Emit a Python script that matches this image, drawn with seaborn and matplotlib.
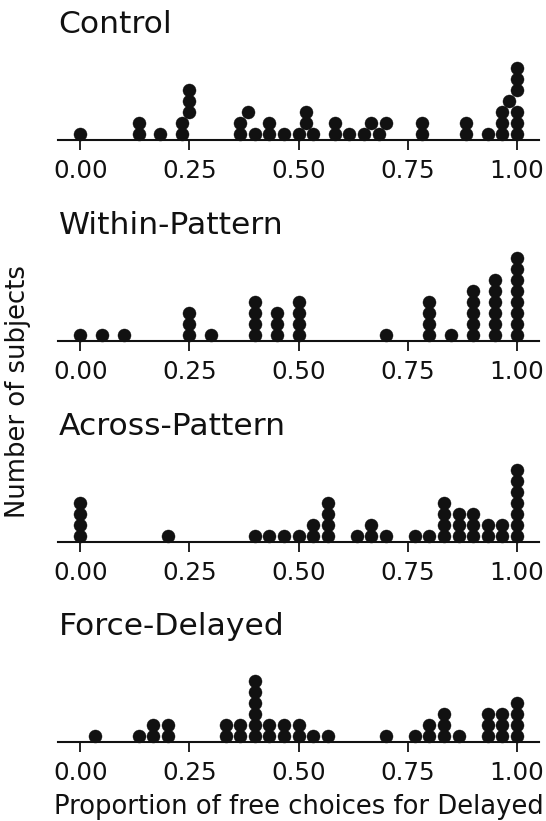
import numpy as np
import pandas as pd
import seaborn as sns
import matplotlib.pyplot as plt

sns.set_theme(style="ticks")
plt.rcParams["font.family"] = ["DejaVu Sans"]

# ============================
# Data: number of free choices for Delayed per subject
# (proportion = count / number of free-choice trials)
# ============================
panel_names = ["Control", "Within-Pattern", "Across-Pattern", "Force-Delayed"]

control_trials = 60
control_counts = [0, 8, 8, 11, 14, 14, 15, 15, 15, 22, 22, 23, 24, 26, 26, 28,
                  30, 31, 31, 32, 35, 35, 37, 39, 40, 41, 42, 47, 47, 53, 53,
                  56, 58, 58, 58, 59, 60, 60, 60, 60, 60, 60]

within_trials = 20
within_counts = [0, 1, 2, 5, 5, 5, 6, 8, 8, 8, 8, 9, 9, 9, 10, 10, 10, 10, 14,
                 16, 16, 16, 16, 17, 18, 18, 18, 18, 18, 19, 19, 19, 19, 19, 19,
                 20, 20, 20, 20, 20, 20, 20, 20]

across_trials = 30
across_counts = [0, 0, 0, 0, 6, 12, 13, 14, 15, 16, 16, 17, 17, 17, 17, 19,
                 20, 20, 21, 23, 24, 25, 25, 25, 25, 26, 26, 26, 27, 27, 27,
                 28, 28, 29, 29, 30, 30, 30, 30, 30, 30, 30]

forced_trials = 30
forced_counts = [1, 4, 5, 5, 6, 6, 10, 10, 11, 11, 12, 12, 12, 12, 12, 12, 13,
                 13, 14, 14, 15, 15, 16, 17, 21, 23, 24, 24, 25, 25, 25, 26,
                 28, 28, 28, 29, 29, 29, 30, 30, 30, 30]

tick_values = [0.0, 0.25, 0.5, 0.75, 1.0]

# ============================
# Layout (pixels of a 546x821 figure)
# ============================
FIG_W, FIG_H, DPI = 546, 821, 100
AX_LEFT, AX_W, AX_H = 58.5, 480, 96
SPINE_Y = [140, 340.7, 541.7, 741.7]
DOT_PX = 11
XLIM = (-0.05, 1.05)
DOT_COLOR = "#111111"


def stack_levels(props):
    """Stack dots one-sided: each dot goes to the lowest free level
    among already placed dots that overlap it horizontally."""
    min_gap = DOT_PX / (AX_W / (XLIM[1] - XLIM[0]))
    placed = []
    rows = []
    for p in sorted(props):
        taken = {lvl for q, lvl in placed if abs(q - p) < min_gap - 1e-9}
        lvl = 0
        while lvl in taken:
            lvl += 1
        placed.append((p, lvl))
        rows.append({"proportion": p, "height": lvl + 0.5})
    return pd.DataFrame(rows)


def main():
    fig = plt.figure(figsize=(FIG_W / DPI, FIG_H / DPI), dpi=DPI)

    panels = [
        np.array(control_counts) / control_trials,
        np.array(within_counts) / within_trials,
        np.array(across_counts) / across_trials,
        np.array(forced_counts) / forced_trials,
    ]

    axes = []
    for name, props, spine_y in zip(panel_names, panels, SPINE_Y):
        ax = fig.add_axes([AX_LEFT / FIG_W, 1 - spine_y / FIG_H,
                           AX_W / FIG_W, AX_H / FIG_H])
        df = stack_levels(props)
        sns.scatterplot(data=df, x="proportion", y="height", ax=ax,
                        s=88, color=DOT_COLOR, edgecolor=DOT_COLOR,
                        linewidth=0.3, legend=False, clip_on=False)
        ax.set_xlim(*XLIM)
        ax.set_ylim(0, AX_H / DOT_PX)
        ax.set_yticks([])
        ax.set_xticks(tick_values)
        ax.set_xticklabels([f"{t:.2f}" for t in tick_values])
        ax.tick_params(axis="x", length=7, width=1.3, pad=6.6,
                       labelsize=17.7, color=DOT_COLOR, labelcolor="#111111")
        ax.set_xlabel("")
        ax.set_ylabel("")
        ax.set_title(name, loc="left", fontsize=22.6, pad=7.6, color="#111111")
        sns.despine(ax=ax, left=True)
        ax.spines["bottom"].set_linewidth(1.5)
        ax.spines["bottom"].set_color(DOT_COLOR)
        axes.append(ax)

    axes[-1].set_xlabel("Proportion of free choices for Delayed",
                        fontsize=18.65, labelpad=6.5, color="#111111")
    fig.text(18 / FIG_W, 1 - 391.5 / FIG_H, "Number of subjects",
             rotation=90, ha="center", va="center", fontsize=18.65,
             color="#111111")

    fig.savefig("out.png", dpi=DPI)
    plt.close(fig)


if __name__ == "__main__":
    main()
